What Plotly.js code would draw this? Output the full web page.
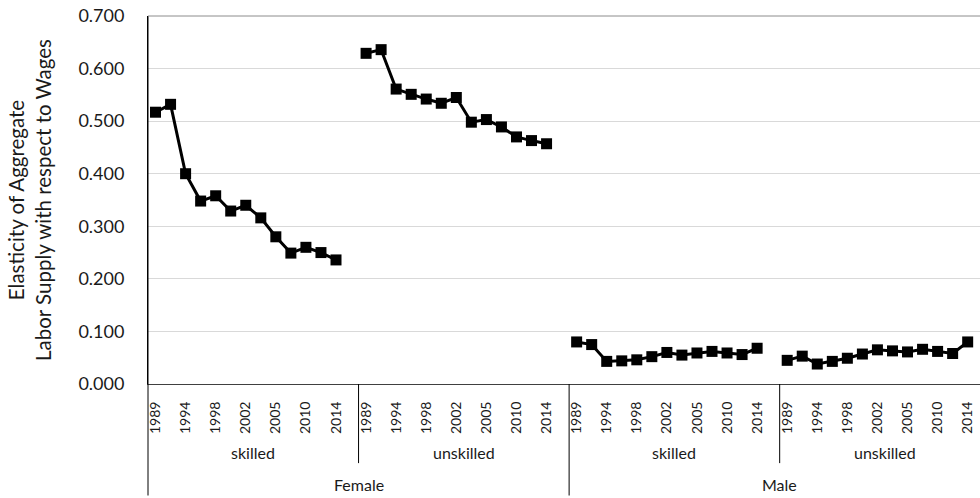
<!DOCTYPE html>
<html>
<head>
<meta charset="utf-8">
<script src="https://cdn.plot.ly/plotly-3.0.1.min.js"></script>
<style>html,body{margin:0;padding:0;background:#fff;}#chart{width:980px;height:498px;}</style>
</head>
<body>
<div id="chart"></div>
<script>
// ---- data ----
const genders = ["Female", "Male"];
const skills = ["skilled", "unskilled"];
// category slots inside each skill group (only every other label is shown in the source)
const yearLabels = ["1989", "", "1994", "", "1998", "", "2002", "", "2005", "", "2010", "", "2014", ""];

const femaleSkilled   = [0.517, 0.532, 0.400, 0.348, 0.358, 0.329, 0.340, 0.316, 0.280, 0.249, 0.260, 0.250, 0.236];
const femaleUnskilled = [0.629, 0.636, 0.561, 0.551, 0.542, 0.534, 0.545, 0.498, 0.503, 0.489, 0.470, 0.463, 0.457];
const maleSkilled     = [0.080, 0.075, 0.043, 0.044, 0.046, 0.052, 0.060, 0.055, 0.059, 0.062, 0.059, 0.056, 0.068];
const maleUnskilled   = [0.045, 0.053, 0.038, 0.043, 0.049, 0.057, 0.065, 0.063, 0.061, 0.066, 0.062, 0.058, 0.080];

const yTitle = "Elasticity of Aggregate<br>Labor Supply with respect to Wages";

// ---- build ----
const series = [femaleSkilled, femaleUnskilled, maleSkilled, maleUnskilled];
const slots = yearLabels.length;
const FONT = "Lato, 'Liberation Sans', sans-serif";
const TXT = "#1a1a1a";

const traces = series.map((vals, g) => ({
  type: "scatter",
  mode: "lines+markers",
  x: vals.map((v, i) => g * slots + i),
  y: vals,
  line: {color: "#000000", width: 3},
  marker: {symbol: "square", size: 11, color: "#000000"},
  showlegend: false,
  hoverinfo: "x+y"
}));

const tickvals = [], ticktext = [];
for (let g = 0; g < genders.length * skills.length; g++) {
  yearLabels.forEach((lab, i) => { if (lab) { tickvals.push(g * slots + i); ticktext.push(lab); } });
}

const annotations = [];
const shapes = [];
for (let gi = 0; gi < genders.length; gi++) {
  for (let si = 0; si < skills.length; si++) {
    const g = gi * skills.length + si;
    annotations.push({
      xref: "x", yref: "paper", x: g * slots + (slots - 1) / 2, y: -0.186,
      text: skills[si], showarrow: false, xanchor: "center", yanchor: "middle",
      font: {family: FONT, size: 16, color: TXT}
    });
    if (si > 0) {
      shapes.push({type: "line", xref: "x", yref: "paper",
        x0: g * slots - 0.5, x1: g * slots - 0.5, y0: 0, y1: -0.215,
        line: {color: "#000000", width: 1}});
    }
  }
  annotations.push({
    xref: "x", yref: "paper", x: gi * skills.length * slots + (skills.length * slots - 1) / 2, y: -0.273,
    text: genders[gi], showarrow: false, xanchor: "center", yanchor: "middle",
    font: {family: FONT, size: 16, color: TXT}
  });
  if (gi > 0) {
    shapes.push({type: "line", xref: "x", yref: "paper",
      x0: gi * skills.length * slots - 0.5, x1: gi * skills.length * slots - 0.5, y0: 0, y1: -0.303,
      line: {color: "#000000", width: 1}});
  }
}
// left border of category area
shapes.push({type: "line", xref: "paper", yref: "paper", x0: 0, x1: 0, y0: -0.303, y1: 1,
  line: {color: "#000000", width: 1}});
// top border
shapes.push({type: "line", xref: "paper", yref: "paper", x0: 0, x1: 1, y0: 1, y1: 1,
  line: {color: "#8c8c8c", width: 1}});

annotations.push({
  xref: "paper", yref: "paper", x: -0.143, y: 0.5,
  text: yTitle, showarrow: false, textangle: -90, xanchor: "center", yanchor: "middle",
  align: "center", font: {family: FONT, size: 20.5, color: TXT}
});

const plotW = 980 - 148;
const slotPx = 15.04;

const layout = {
  width: 980, height: 498,
  margin: {l: 148, r: 0, t: 16, b: 114, pad: 0},
  paper_bgcolor: "#ffffff", plot_bgcolor: "#ffffff",
  font: {family: FONT, color: TXT},
  xaxis: {
    type: "linear",
    range: [-0.5, -0.5 + plotW / slotPx],
    tickvals: tickvals, ticktext: ticktext, tickangle: -90,
    tickfont: {family: FONT, size: 14, color: TXT},
    ticks: "", ticklabelstandoff: 11,
    showgrid: false, zeroline: false,
    showline: true, linecolor: "#404040", linewidth: 1
  },
  yaxis: {
    range: [0, 0.7], dtick: 0.1, tick0: 0, tickformat: ".3f",
    tickfont: {family: FONT, size: 18, color: TXT},
    ticks: "", ticklabelstandoff: 19,
    showgrid: true, gridcolor: "#d9d9d9", gridwidth: 1,
    zeroline: false, showline: true, linecolor: "#000000", linewidth: 1
  },
  annotations: annotations,
  shapes: shapes,
  showlegend: false
};

Plotly.newPlot("chart", traces, layout, {displayModeBar: false, staticPlot: true});
</script>
</body>
</html>
